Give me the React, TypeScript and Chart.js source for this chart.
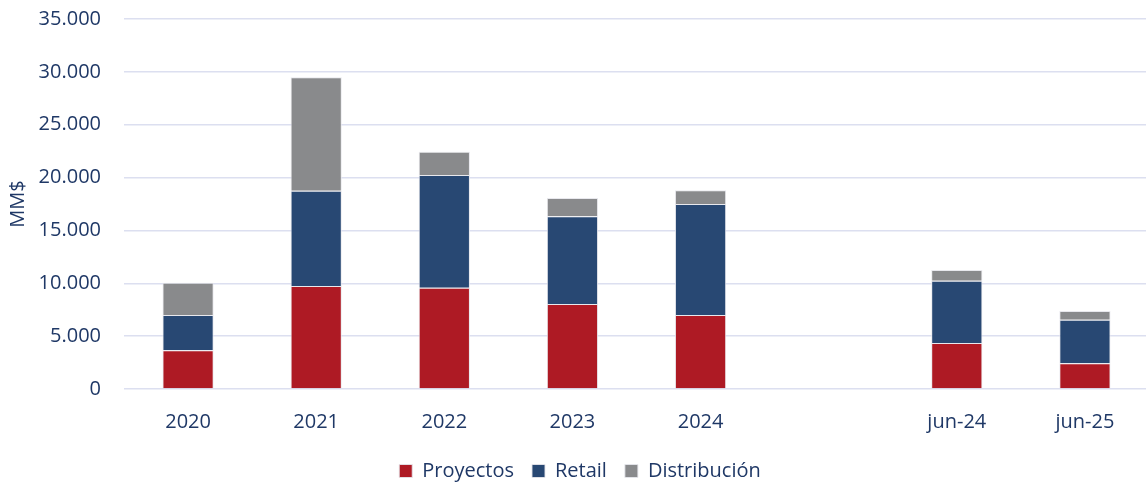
import React, { useEffect, useRef } from 'react';
import { Chart, registerables } from 'chart.js';
Chart.register(...registerables);

const categories = ['2020', '2021', '2022', '2023', '2024', '', 'jun-24', 'jun-25'];
const proyectos = [3670, 9740, 9580, 8040, 6990, null, 4340, 2440];
const retail = [3320, 9020, 10660, 8310, 10500, null, 5910, 4110];
const distribucion = [3070, 10740, 2210, 1710, 1320, null, 1010, 820];
const yTicks = [0, 5000, 10000, 15000, 20000, 25000, 30000, 35000];

const TEXT = '#1F3866';
const FONT = '"Open Sans", "Noto Sans", sans-serif';

function fmt(v: number): string {
  return String(v).replace(/\B(?=(\d{3})+(?!\d))/g, '.');
}

export default function App() {
  const ref = useRef<HTMLCanvasElement | null>(null);
  useEffect(() => {
    if (!ref.current) return;
    const chart = new Chart(ref.current, {
      type: 'bar',
      data: {
        labels: categories,
        datasets: [
          { label: 'Proyectos', data: proyectos, backgroundColor: '#AE1A24', borderColor: 'rgba(230,230,235,0.9)', borderWidth: 1 },
          { label: 'Retail', data: retail, backgroundColor: '#284873', borderColor: 'rgba(230,230,235,0.9)', borderWidth: 1 },
          { label: 'Distribución', data: distribucion, backgroundColor: '#898A8C', borderColor: 'rgba(230,230,235,0.9)', borderWidth: 1 },
        ],
      },
      options: {
        animation: false,
        responsive: true,
        maintainAspectRatio: false,
        datasets: { bar: { barPercentage: 0.4, categoryPercentage: 1 } },
        layout: { padding: { top: 0, bottom: -8, left: 11, right: 0 } },
        plugins: {
          legend: {
            position: 'bottom',
            labels: {
              boxWidth: 13,
              boxHeight: 13,
              color: TEXT,
              padding: 18,
              font: { family: FONT, size: 20 },
            },
          },
          tooltip: { enabled: false },
        },
        scales: {
          x: {
            stacked: true,
            grid: { display: false },
            border: { display: false },
            afterFit: (s: any) => { s.height = s.height - 4; },
            ticks: { color: TEXT, font: { family: FONT, size: 20 }, padding: 13, autoSkip: false, maxRotation: 0 },
          },
          y: {
            stacked: true,
            min: 0,
            max: 35000,
            afterFit: (s: any) => { s.width = 113; s.paddingTop = 19; s.paddingBottom = 0; },
            afterBuildTicks: (s: any) => { s.ticks = yTicks.map((v) => ({ value: v })); },
            ticks: { color: TEXT, font: { family: FONT, size: 20 }, padding: 23, callback: (v: any) => fmt(Number(v)) },
            grid: { color: '#DCDFF0', lineWidth: 1.5, drawTicks: false },
            border: { display: false },
            title: { display: true, text: 'MM$', color: TEXT, font: { family: FONT, size: 20 }, padding: { top: -5, bottom: 0 } },
          },
        },
      },
    });
    return () => chart.destroy();
  }, []);
  return (
    <div style={{ position: 'fixed', left: 0, top: 0, width: 1146, height: 483, overflow: 'hidden', background: '#fff' }}>
      <div style={{ position: 'relative', width: 1149, height: 483 }}>
        <canvas ref={ref} />
      </div>
    </div>
  );
}
